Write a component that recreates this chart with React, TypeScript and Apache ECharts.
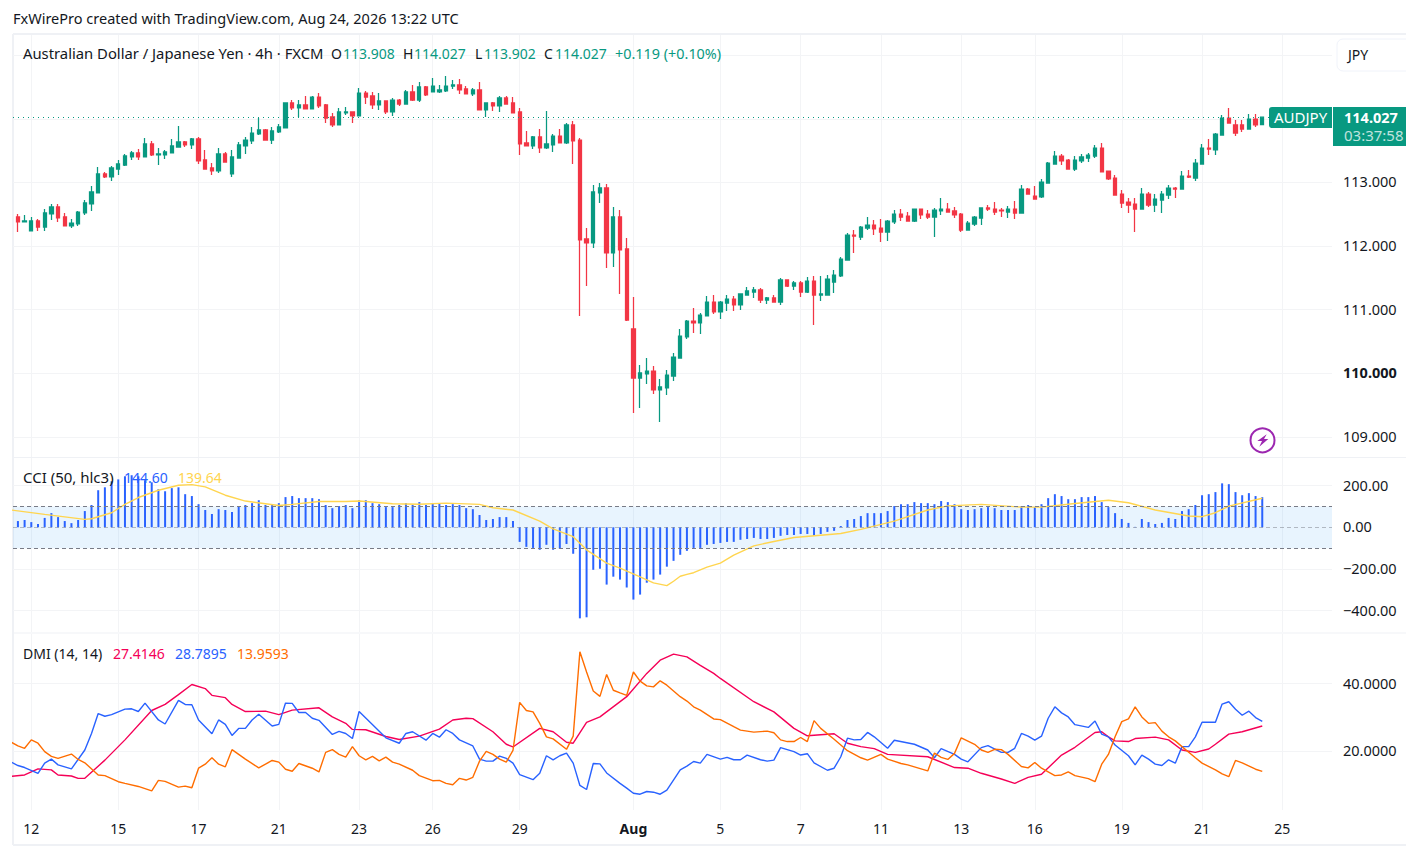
import React, { useEffect, useRef } from "react";
import * as echarts from "echarts";

const FONT = "'Noto Sans', sans-serif";
const GREEN = "#089981";
const RED = "#F23645";
const TEXT = "#131722";
const GRID = "#F3F4F6";

// bar index of the first candle; 0 is the bar labelled "12"
const firstBar = -3;
const opens = [112.238,112.458,112.379,112.238,112.395,112.30,112.505,112.615,112.458,112.316,112.348,112.521,112.662,112.835,113.134,113.087,113.212,113.275,113.401,113.464,113.401,113.606,113.433,113.433,113.464,113.558,113.637,113.59,113.684,113.354,113.228,113.181,113.448,113.134,113.385,113.574,113.653,113.763,113.826,113.668,113.794,113.857,114.25,114.172,114.219,114.156,114.344,114.219,114.03,113.904,114.093,114.109,114.046,114.407,114.36,114.219,114.282,114.109,114.297,114.234,114.423,114.297,114.502,114.423,114.423,114.439,114.517,114.533,114.47,114.392,114.455,114.14,114.25,114.203,114.329,114.25,114.109,113.621,113.574,113.716,113.543,113.59,113.731,113.621,113.904,113.668,112.112,112.049,112.835,112.914,111.892,112.458,111.955,110.697,109.926,109.989,110.036,109.738,109.769,109.957,110.24,110.571,110.822,110.791,110.901,111.121,110.964,111.105,111.168,111.074,111.231,111.278,111.31,111.152,111.184,111.121,111.467,111.372,111.42,111.278,111.451,111.231,111.231,111.435,111.53,111.781,112.174,112.143,112.284,112.331,112.284,112.221,112.379,112.504,112.473,112.394,112.583,112.504,112.457,112.552,112.583,112.552,112.504,112.253,112.347,112.441,112.599,112.583,112.567,112.536,112.583,112.52,112.897,112.787,112.772,112.992,113.29,113.416,113.353,113.212,113.338,113.385,113.416,113.542,113.18,113.07,112.819,112.693,112.661,112.583,112.819,112.646,112.724,112.803,112.913,112.897,113.102,113.07,113.29,113.542,113.511,113.746,114.014,113.904,113.904,113.841,113.998,113.908];
const highs = [112.47,112.505,112.489,112.458,112.426,112.583,112.662,112.662,112.521,112.426,112.552,112.725,112.945,113.244,113.165,113.26,113.354,113.448,113.495,113.527,113.70,113.653,113.543,113.511,113.684,113.889,113.653,113.70,113.716,113.511,113.307,113.543,113.48,113.511,113.637,113.716,113.873,114.014,113.841,113.873,113.92,114.25,114.297,114.297,114.36,114.36,114.407,114.234,114.093,114.172,114.187,114.109,114.486,114.439,114.423,114.407,114.282,114.329,114.313,114.455,114.533,114.58,114.517,114.643,114.533,114.675,114.612,114.627,114.517,114.486,114.58,114.25,114.266,114.36,114.36,114.344,114.172,113.81,113.731,113.841,114.124,113.763,113.841,113.936,113.967,113.70,112.285,112.961,112.992,112.977,112.615,112.568,112.128,111.2,110.131,110.241,110.115,109.911,110.052,110.319,110.696,110.838,111.026,110.948,111.215,111.231,111.137,111.231,111.215,111.247,111.357,111.357,111.341,111.199,111.231,111.498,111.467,111.451,111.451,111.514,111.53,111.53,111.545,111.624,111.828,112.206,112.253,112.316,112.457,112.41,112.426,112.41,112.567,112.583,112.536,112.583,112.583,112.567,112.599,112.756,112.677,112.615,112.52,112.394,112.473,112.599,112.646,112.693,112.599,112.63,112.709,112.96,112.913,112.945,113.055,113.322,113.495,113.448,113.369,113.416,113.448,113.463,113.589,113.621,113.18,113.118,112.882,112.756,112.756,112.913,112.85,112.819,112.866,112.96,112.929,113.18,113.196,113.369,113.605,113.684,113.778,114.061,114.171,113.982,113.982,114.077,114.077,114.027];
const lows = [112.238,112.222,112.379,112.238,112.238,112.238,112.411,112.379,112.316,112.285,112.316,112.489,112.552,112.835,113.071,113.024,113.118,113.26,113.354,113.354,113.401,113.417,113.275,113.37,113.464,113.558,113.558,113.527,113.291,113.212,113.118,113.15,113.322,113.087,113.385,113.448,113.606,113.747,113.668,113.606,113.778,113.857,114.14,114.03,114.156,114.156,114.172,113.936,113.873,113.904,114.061,113.936,114.046,114.234,114.156,114.14,114.077,114.046,114.203,114.234,114.282,114.266,114.36,114.423,114.407,114.423,114.47,114.392,114.392,114.36,114.14,114.03,114.124,114.109,114.234,114.093,113.433,113.574,113.527,113.464,113.527,113.48,113.621,113.606,113.291,110.901,111.373,111.97,112.678,111.656,111.672,111.247,110.822,109.376,109.455,109.832,109.675,109.235,109.659,109.879,110.24,110.539,110.633,110.618,110.901,110.932,110.853,110.979,110.979,110.995,111.231,111.184,111.105,111.09,111.121,111.074,111.357,111.31,111.199,111.262,110.759,111.137,111.231,111.262,111.514,111.781,111.891,112.096,112.253,112.174,112.064,112.08,112.347,112.394,112.394,112.379,112.426,112.426,112.143,112.489,112.536,112.441,112.221,112.253,112.316,112.331,112.552,112.489,112.457,112.441,112.426,112.52,112.819,112.74,112.756,112.992,113.29,113.275,113.212,113.18,113.306,113.322,113.385,113.165,113.039,112.803,112.599,112.52,112.221,112.583,112.614,112.536,112.52,112.74,112.756,112.897,113.07,113.023,113.29,113.432,113.432,113.746,113.935,113.731,113.794,113.841,113.872,113.902];
const closes = [112.463,112.379,112.395,112.395,112.30,112.521,112.615,112.442,112.316,112.363,112.536,112.678,112.851,113.134,113.087,113.228,113.291,113.417,113.464,113.401,113.606,113.433,113.448,113.48,113.574,113.637,113.59,113.684,113.338,113.212,113.181,113.448,113.322,113.401,113.59,113.668,113.778,113.826,113.668,113.81,113.873,114.25,114.172,114.219,114.156,114.344,114.203,114.014,113.904,114.109,114.109,114.046,114.407,114.344,114.219,114.282,114.109,114.297,114.234,114.423,114.297,114.502,114.376,114.517,114.455,114.517,114.533,114.455,114.392,114.455,114.14,114.25,114.203,114.329,114.234,114.093,113.606,113.574,113.716,113.543,113.606,113.731,113.621,113.904,113.653,112.096,112.049,112.851,112.914,111.892,112.458,111.939,110.838,109.926,110.005,110.036,109.738,109.785,109.973,110.256,110.586,110.822,110.791,110.916,111.121,110.964,111.121,111.168,111.074,111.247,111.294,111.31,111.152,111.184,111.121,111.467,111.372,111.42,111.278,111.451,111.231,111.247,111.482,111.545,111.797,112.174,112.158,112.3,112.331,112.269,112.221,112.394,112.504,112.457,112.394,112.583,112.489,112.457,112.567,112.583,112.536,112.489,112.253,112.363,112.457,112.599,112.583,112.536,112.552,112.583,112.52,112.897,112.819,112.74,113.007,113.306,113.416,113.338,113.212,113.353,113.401,113.432,113.542,113.165,113.055,112.803,112.677,112.646,112.583,112.819,112.646,112.74,112.819,112.913,112.897,113.102,113.086,113.306,113.542,113.526,113.762,114.014,113.935,113.778,113.841,113.998,113.904,114.027];

const tickBars = [0,13,25,37,49,60,73,90,103,115,127,139,150,163,175,187];
const tickLabels = ["12","15","17","21","23","26","29","Aug","5","7","11","13","16","19","21","25"];
const priceGridTicks = [109,110,111,112,113,114,115];
const priceLabelTicks = [109,110,111,112,113];
const cciTicks = [-400,-200,200];
const cciLabelTicks = [-400,-200,0,200];
const dmiTicks = [20,40];

const cciFirstBar = -2;
const cciValues = [30,35,25,16,45,68,49,30,20,35,78,107,178,192,221,230,245,250,245,226,216,183,173,188,192,159,150,111,83,64,87,83,73,102,107,116,130,107,107,116,145,150,140,140,140,135,107,92,102,107,92,130,130,116,111,97,97,107,116,107,121,107,116,116,107,111,107,92,87,59,35,40,49,49,30,-70,-94,-99,-108,-84,-108,-103,-80,-127,-437,-432,-204,-199,-275,-237,-251,-289,-347,-323,-266,-251,-227,-189,-161,-132,-113,-99,-99,-84,-80,-75,-70,-70,-60,-56,-51,-56,-56,-51,-41,-37,-37,-32,-32,-41,-32,-22,-17,6,35,40,54,68,68,68,78,102,111,111,121,116,116,111,126,121,111,87,83,87,92,97,92,83,83,83,102,107,97,111,140,159,150,135,135,145,145,150,121,97,68,40,21,2,40,25,16,21,45,40,78,87,107,154,159,169,211,207,169,154,164,150,144.6];
const cciMaBars = [-3,2,8,9,12,14,16,19,22,24,26,29,32,37,39,43,47,49,54,58,62,67,69,72,76,78,81,83,86,88,91,93,95,96,97,98,99,101,103,105,108,111,114,118,121,124,129,134,137,142,148,151,156,161,164,168,173,175,177,179,184];
const cciMaValues = [83,62,38,41,70,110,143,178,202,205,194,154,126,105,110,124,124,126,113,111,116,110,94,83,30,-8,-45,-108,-172,-196,-238,-267,-280,-259,-235,-226,-218,-191,-172,-134,-89,-68,-49,-38,-30,-10,30,83,103,110,97,97,114,130,118,83,54,51,70,102,139.64];

const adxBars = [-3,-1,1,3,4,6,7,8,11,14,18,20,22,24,26,27,29,30,32,35,37,39,43,45,47,48,50,53,55,58,61,63,65,66,69,71,72,76,78,80,81,83,85,89,92,94,96,98,100,102,103,108,111,114,116,120,122,124,126,128,134,138,140,142,145,147,149,151,154,156,159,160,161,162,164,165,168,170,172,174,176,177,179,181,184];
const adxValues = [12.5,12.9,14.7,14.4,12.9,12.6,11.9,11.9,17.3,23.3,32,33.8,36.7,39.7,38.5,36.5,35.8,33.8,31.7,31.8,30.8,32.1,32.8,30.1,28.2,26.4,26.3,24.3,23.4,24.4,26.5,29.2,29.7,29.6,25.7,22,21.2,26.7,25.7,22.6,22.3,28.5,30.1,36.1,43,46.9,48.7,47.9,45.4,43,41.5,34.6,31.6,26.7,24.5,25.1,22.3,21.3,20.7,19,18.3,15.1,14.9,13.4,11.7,10.4,12.2,13.1,18.8,21.1,25.5,25.7,24.2,23,22.8,23.7,24.1,23.3,20.3,19.6,20.6,22,25,25.7,27.4146];

const plusBars = [-3,-2,-1,1,2,3,4,6,8,9,10,11,12,14,15,16,17,19,20,22,23,24,25,27,28,29,30,31,32,33,34,36,37,38,39,40,41,42,43,45,46,47,48,49,53,55,56,57,59,60,61,62,63,64,66,67,68,69,70,71,72,73,75,76,77,78,79,80,81,82,83,84,85,86,88,89,90,91,92,93,94,95,97,98,99,100,101,103,104,105,106,107,109,110,111,112,114,115,116,117,119,120,121,122,123,124,125,126,128,129,132,134,135,136,138,139,140,142,143,145,146,147,148,149,150,151,152,153,154,155,156,158,159,160,161,162,164,165,166,167,168,169,170,171,172,173,174,175,177,178,179,180,181,182,183,184];
const plusValues = [16.7,15.7,15.1,13.4,16.4,17.6,15.9,14.7,20.3,25.2,31.1,30.3,30.8,32.4,32.5,31.7,34.2,29.2,28,35,33.8,33.7,29.2,25.1,29.2,27.9,24.6,26.7,26.7,29.2,30.9,27.4,27.9,34.2,34.1,31.4,31.4,29.7,29.1,24.9,25.8,25.2,23.7,31.7,23.9,22.3,25.2,25.7,23.2,25.2,24.1,26.3,25.2,23.3,21.5,17.6,17,17,18.5,17.8,16.4,13,11.5,13.4,18.6,17.4,18.6,19.4,16.4,9.8,8.6,16.3,16.2,13.5,10.4,9,7.5,7.2,8,7.8,7.2,8.4,14.4,15.5,16.9,16.4,19,17.6,18.1,17.4,17.4,18.8,17.4,17,17.3,21,19.8,18.8,19.2,16.5,14.3,14.9,18.3,23.8,23.3,23.4,25.5,24.2,20.8,23.2,22,20.3,18,20.7,19,17.6,16.8,21,21.6,19.6,19.6,20.8,25.2,24.4,23.2,24.4,29.7,33.1,31.3,30.1,27.8,27,28.9,25,24.2,21.8,18.6,15.9,18.8,17.6,16.1,15.7,17.4,16.4,21.3,21.3,24.2,28.5,28.5,33.9,34.6,32.4,30.6,31.8,29.9,28.7895];

const minusBars = [-3,-2,-1,0,1,2,3,4,6,7,8,10,11,13,14,16,18,19,20,22,23,24,25,26,27,28,29,30,32,34,36,37,38,39,40,42,43,44,45,46,47,48,49,50,51,52,53,54,55,57,58,60,61,62,63,64,65,66,67,68,69,70,71,72,73,74,75,76,77,78,80,81,82,83,84,85,86,87,88,89,90,91,92,93,94,95,97,98,99,100,102,103,105,106,108,110,111,112,113,114,115,116,117,118,120,122,124,125,127,128,130,131,134,135,136,137,138,139,141,142,143,144,145,146,148,149,150,151,153,154,155,156,158,159,160,161,162,163,164,165,166,167,168,169,170,171,172,174,175,177,178,179,180,181,183,184];
const minusValues = [22.6,21.5,20.8,23.3,22.3,19.8,18.4,17.8,19.1,17.5,16.5,12.9,12.7,10.9,10.4,9.5,8.2,11.3,11,9.3,9.6,9.1,14.9,16.1,18,16.1,15.3,20.4,17.6,15,17.2,16.7,14.6,14,16.3,14.9,13.8,19.6,20.4,19,18.2,21.3,18.6,17.4,18.4,17.1,18.2,16.7,16.1,14.3,12.7,11.2,11.3,10.4,10,11.9,11.4,12.2,17,19.9,19,17.6,16.7,20.2,34.4,32,31.6,28.2,24.2,23.6,20.5,24.4,49.4,43.4,37.8,36.2,42.7,38,37.2,36.5,43.4,40.7,39.3,39,40.8,39.5,36.1,34.8,33.1,32.1,29.5,29.3,27.2,26.2,25.6,25.9,25.4,23.3,22.8,22.8,24,22.8,29,26.7,23.5,20.1,18,17.3,19,17.6,16.3,15.9,14.1,19.4,18.1,17.5,19.3,23.9,22,20.3,19.6,20.5,20.4,19,15.4,15,16.6,14.9,12.7,12.9,13.8,12.7,11.8,10.9,16.1,19,24.2,28.7,29.5,33.1,30.1,28.2,28.4,25.9,24.2,23,21.3,18,16.4,14.4,13.2,12.4,17.2,16.5,14.6,13.9593];

const zip = (xs: number[], ys: number[]) => xs.map((x, i) => [x, ys[i]]);

// plot frame on the page
const LEFT = 13, RIGHT = 1332;
const BAR_ZERO_X = 31.3, BAR_STEP = 6.69;
const xMin = (LEFT - BAR_ZERO_X) / BAR_STEP;
const xMax = (RIGHT - BAR_ZERO_X) / BAR_STEP;

const xAxisFor = (gridIndex: number, labels: boolean) => ({
  type: "value", gridIndex, min: xMin, max: xMax,
  axisLine: { show: false },
  axisTick: { show: false, customValues: tickBars },
  splitLine: { show: true, lineStyle: { color: GRID, width: 1 } },
  axisLabel: {
    show: labels, customValues: tickBars, margin: 11, fontFamily: FONT, fontSize: 14, color: TEXT,
    formatter: (v: number) => {
      const t = tickLabels[tickBars.indexOf(v)];
      return t === "Aug" ? "{b|Aug}" : t;
    },
    rich: { b: { fontWeight: "bold", fontFamily: FONT, fontSize: 14, color: TEXT } },
  },
});

const yAxisFor = (gridIndex: number, min: number, max: number, grid: number[], labels: number[], fmt: (v: number) => string) => ({
  type: "value", gridIndex, min, max, position: "right", scale: true,
  axisLine: { show: false },
  axisTick: { show: false, customValues: grid },
  splitLine: { show: true, lineStyle: { color: GRID, width: 1 } },
  axisLabel: {
    customValues: labels, margin: 11, fontFamily: FONT, fontSize: 14.5, color: TEXT, align: "left",
    padding: [0, 0, 2, 0],
    formatter: fmt,
    rich: { b: { fontWeight: "bold", fontFamily: FONT, fontSize: 14.5, color: TEXT } },
  },
});

const txt = (text: string, x: number, y: number, fill: string, extra: any = {}) => ({
  type: "text", x, y: y - 1, z: 20, silent: true,
  style: { text, fill, fontFamily: FONT, fontSize: 14, textVerticalAlign: "middle", verticalAlign: "middle", ...extra },
});
const frame = (x1: number, y1: number, x2: number, y2: number, width = 1) => ({
  type: "line", z: 0, silent: true, shape: { x1, y1, x2, y2 }, style: { stroke: "#EFF1F5", lineWidth: width },
});

export default function App() {
  const ref = useRef<HTMLDivElement>(null);
  useEffect(() => {
    const chart = echarts.init(ref.current!, undefined, { renderer: "svg" });
    const candles = opens.map((o, i) => [firstBar + i, o, closes[i], lows[i], highs[i]]);
    const cciData = zip(cciValues.map((_, i) => cciFirstBar + i), cciValues);
    const thin = (color: string) => ({ color, width: 1.4 });
    chart.setOption({
      animation: false,
      backgroundColor: "#fff",
      textStyle: { fontFamily: FONT },
      grid: [
        { left: LEFT, right: 1406 - RIGHT, top: 35, height: 422 },
        { left: LEFT, right: 1406 - RIGHT, top: 458, height: 174 },
        { left: LEFT, right: 1406 - RIGHT, top: 634, height: 176 },
      ],
      xAxis: [xAxisFor(0, false), xAxisFor(1, false), xAxisFor(2, true)],
      yAxis: [
        yAxisFor(0, 108.684, 115.319, priceGridTicks, priceLabelTicks, (v) => (v === 110 ? `{b|${v.toFixed(3)}}` : v.toFixed(3))),
        yAxisFor(1, -502.6, 332.7, cciTicks, cciLabelTicks, (v) => (v < 0 ? "\u2212" + Math.abs(v).toFixed(2) : v.toFixed(2))),
        yAxisFor(2, 2.52, 54.67, dmiTicks, dmiTicks, (v) => v.toFixed(4)),
      ],
      series: [
        {
          type: "candlestick", name: "AUDJPY", xAxisIndex: 0, yAxisIndex: 0, barWidth: 3.8,
          encode: { x: 0, y: [1, 2, 3, 4] },
          data: candles,
          itemStyle: { color: GREEN, color0: RED, borderColor: GREEN, borderColor0: RED, borderWidth: 1.25 },
          markLine: {
            silent: true, symbol: "none", label: { show: false },
            lineStyle: { color: GREEN, type: [1, 4], width: 1, opacity: 1 },
            data: [{ yAxis: closes[closes.length - 1] }],
          },
        },
        {
          type: "bar", name: "CCI", xAxisIndex: 1, yAxisIndex: 1, barWidth: 2, data: cciData,
          itemStyle: { color: "#2962FF" },
          markArea: { silent: true, itemStyle: { color: "rgba(33,150,243,0.1)" }, data: [[{ yAxis: 100 }, { yAxis: -100 }]] },
          markLine: {
            silent: true, symbol: "none", label: { show: false },
            lineStyle: { color: "#787B86", type: [4, 3], width: 1, opacity: 1 },
            data: [{ yAxis: 100 }, { yAxis: -100 }, { yAxis: 0, lineStyle: { color: "rgba(120,123,134,0.5)" } }],
          },
        },
        {
          type: "line", name: "CCI MA", xAxisIndex: 1, yAxisIndex: 1, showSymbol: false, z: 4,
          data: zip(cciMaBars, cciMaValues), lineStyle: { color: "#FFD54F", width: 1.4 },
        },
        { type: "line", name: "ADX", xAxisIndex: 2, yAxisIndex: 2, showSymbol: false, data: zip(adxBars, adxValues), lineStyle: thin("#F50057") },
        { type: "line", name: "+DI", xAxisIndex: 2, yAxisIndex: 2, showSymbol: false, data: zip(plusBars, plusValues), lineStyle: thin("#2962FF") },
        { type: "line", name: "-DI", xAxisIndex: 2, yAxisIndex: 2, showSymbol: false, data: zip(minusBars, minusValues), lineStyle: thin("#FF6D00") },
      ],
      graphic: [
        frame(13, 34, 1406, 34, 2),
        frame(13, 34, 13, 845, 2),
        frame(13, 845, 1406, 845, 2),
        frame(13, 457.5, 1406, 457.5, 1),
        frame(13, 633, 1406, 633, 1),
        txt("FxWirePro created with TradingView.com, Aug 24, 2026 13:22 UTC", 13, 19, TEXT, { fontSize: 14.5 }),
        txt("Australian Dollar / Japanese Yen \u00b7 4h \u00b7 FXCM", 23, 54, TEXT, { fontSize: 14.8 }),
        txt("O", 331, 54, TEXT), txt("113.908", 343, 54, GREEN),
        txt("H", 403, 54, TEXT), txt("114.027", 414, 54, GREEN),
        txt("L", 475, 54, TEXT), txt("113.902", 484, 54, GREEN),
        txt("C", 544, 54, TEXT), txt("114.027", 555, 54, GREEN),
        txt("+0.119 (+0.10%)", 615, 54, GREEN, { fontSize: 14.4 }),
        txt("CCI (50, hlc3)", 23, 478, TEXT, { fontSize: 15 }), txt("144.60", 124, 478, "#2962FF"), txt("139.64", 178, 478, "#FFD54F"),
        txt("DMI (14, 14)", 23, 654, TEXT), txt("27.4146", 113, 654, "#F50057"), txt("28.7895", 175, 654, "#2962FF"), txt("13.9593", 237, 654, "#FF6D00"),
        { type: "rect", z: 19, silent: true, shape: { x: 1337, y: 39, width: 80, height: 32, r: 6 }, style: { fill: "#fff", stroke: "#F0F3FA", lineWidth: 1 } },
        txt("JPY", 1348, 55, TEXT),
        { type: "rect", z: 19, silent: true, shape: { x: 1269, y: 107, width: 63, height: 21, r: [3, 0, 0, 3] }, style: { fill: GREEN } },
        txt("AUDJPY", 1274, 118, "#fff", { fontSize: 15 }),
        { type: "rect", z: 19, silent: true, shape: { x: 1333, y: 107, width: 73, height: 39 }, style: { fill: GREEN } },
        txt("114.027", 1344, 118, "#fff", { fontWeight: "bold", fontSize: 14.5 }),
        txt("03:37:58", 1344, 136, "rgba(255,255,255,0.75)", { fontSize: 15 }),
        { type: "circle", z: 19, silent: true, shape: { cx: 1262.5, cy: 440.3, r: 12 }, style: { fill: "#fff", stroke: "#9C27B0", lineWidth: 2 } },
        { type: "polygon", z: 20, silent: true, shape: { points: [[1266.7, 434.3], [1257.3, 441], [1262, 441], [1259.3, 446.7], [1268.3, 439], [1264, 439]] }, style: { fill: "#9C27B0" } },
      ],
    });
    return () => chart.dispose();
  }, []);
  return <div ref={ref} style={{ position: "absolute", left: 0, top: 0, width: 1406, height: 848 }} />;
}
